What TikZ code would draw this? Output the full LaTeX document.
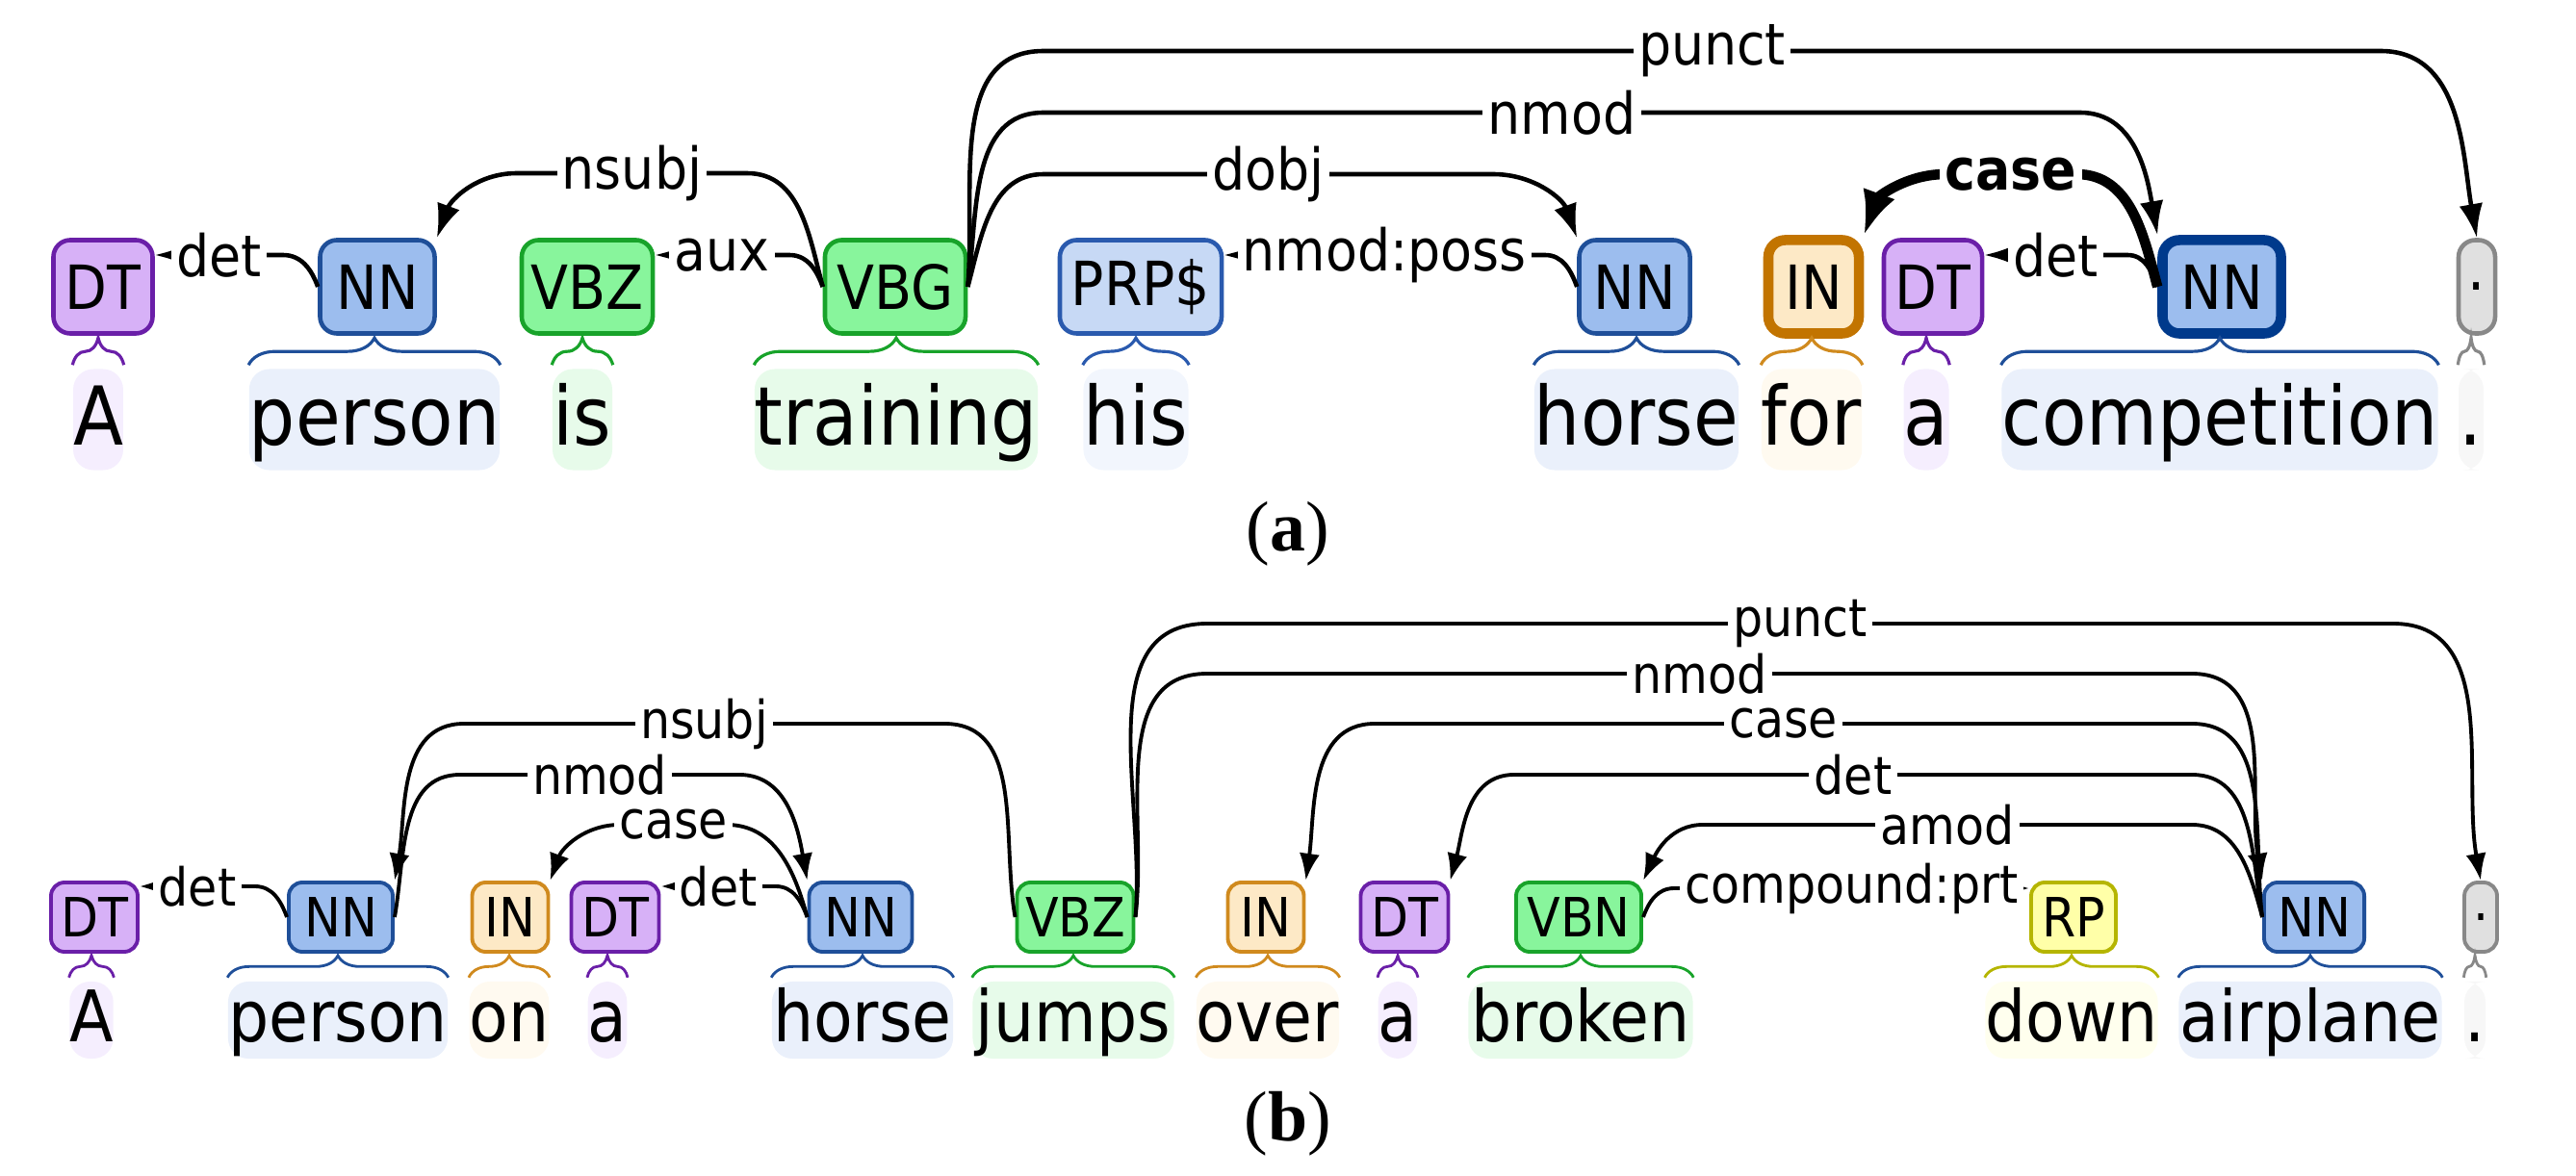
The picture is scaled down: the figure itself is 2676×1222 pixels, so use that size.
\documentclass[tikz,border=0pt]{standalone}
\usepackage{fontspec}
\setmainfont{DejaVu Sans Condensed}
\newfontfamily\capserif{Liberation Serif}
\usetikzlibrary{arrows.meta,decorations.pathreplacing}
\definecolor{dtF}{HTML}{D7B1F7}\definecolor{dtB}{HTML}{6A1FA8}\definecolor{dtW}{HTML}{F5EEFE}
\definecolor{nnF}{HTML}{9CBDEE}\definecolor{nnB}{HTML}{1F4F99}\definecolor{nnW}{HTML}{EAF0FB}
\definecolor{vbF}{HTML}{88F59C}\definecolor{vbB}{HTML}{18A32A}\definecolor{vbW}{HTML}{E7FBEA}
\definecolor{prF}{HTML}{C7D9F5}\definecolor{prB}{HTML}{2A5AAE}\definecolor{prW}{HTML}{F2F6FD}
\definecolor{inF}{HTML}{FDE9C6}\definecolor{inB}{HTML}{D08A1E}\definecolor{inW}{HTML}{FFFAF0}
\definecolor{rpF}{HTML}{FFFFA8}\definecolor{rpB}{HTML}{B5B500}\definecolor{rpW}{HTML}{FFFFEE}
\definecolor{puF}{HTML}{E0E0E0}\definecolor{puB}{HTML}{888888}\definecolor{puW}{HTML}{F7F7F7}
\definecolor{inBB}{HTML}{C27400}\definecolor{nnBB}{HTML}{003A8C}
\begin{document}
\begin{tikzpicture}[x=0.01cm,y=-0.01cm,
  tag/.style={draw, rounded corners=5pt, line width=1.3pt, inner sep=0pt, minimum height=0.97cm, font=\fontsize{18}{18}\selectfont},
  tagb/.style={tag, minimum height=0.72cm, rounded corners=4pt, line width=1.1pt, font=\fontsize{16}{16}\selectfont},
  word/.style={rounded corners=6pt, inner sep=0pt, minimum height=1.05cm, text height=20pt, text depth=5pt, font=\fontsize{24}{24}\selectfont},
  wordb/.style={word, minimum height=0.8cm, text height=17pt, text depth=4pt, font=\fontsize{21}{21}\selectfont},
  DT/.style={draw=dtB, fill=dtF}, NN/.style={draw=nnB, fill=nnF}, VB/.style={draw=vbB, fill=vbF},
  PR/.style={draw=prB, fill=prF}, IN/.style={draw=inB, fill=inF}, RP/.style={draw=rpB, fill=rpF},
  PU/.style={draw=puB, fill=puF},
  lbl/.style={fill=white, inner sep=1.5pt, font=\fontsize{17}{17}\selectfont},
  lblb/.style={lbl, font=\fontsize{15.5}{15.5}\selectfont},
  arc/.style={line width=1.3pt, -{Latex[length=10pt,width=7pt]}},
  arcb/.style={line width=1.1pt, -{Latex[length=8pt,width=6pt]}},
  br/.style={decorate, decoration={brace, amplitude=8pt}, line width=0.9pt},
  brb/.style={decorate, decoration={brace, amplitude=6.5pt}, line width=0.8pt}]
\useasboundingbox (0,0) rectangle (2676,1222);
% ---------- (a) ----------
\node[tag,DT,minimum width=1.03cm] (tDT1) at (107,298) {DT};
\node[tag,NN,minimum width=1.19cm] (tNN1) at (392,298) {NN};
\node[tag,VB,minimum width=1.36cm] (tVBZ) at (610,298) {VBZ};
\node[tag,VB,minimum width=1.46cm] (tVBG) at (930,298) {VBG};
\node[tag,PR,minimum width=1.68cm] (tPRP) at (1185,298) {PRP\$};
\node[tag,NN,minimum width=1.15cm] (tNN2) at (1698,298) {NN};
\node[tag,draw=inBB,fill=inF,line width=3pt,minimum width=0.94cm] (tIN) at (1884,298) {IN};
\node[tag,DT,minimum width=1.02cm] (tDT2) at (2008,298) {DT};
\node[tag,draw=nnBB,fill=nnF,line width=3pt,minimum width=1.23cm] (tNN3) at (2308,298) {NN};
\node[tag,PU,minimum width=0.38cm] (tPU) at (2573,298) {.};
\node[word,fill=dtW,minimum width=0.51cm] (wA) at (102,436) {A};
\node[word,fill=nnW,minimum width=2.59cm] (wperson) at (389,436) {person};
\node[word,fill=vbW,minimum width=0.62cm] (wis) at (605,436) {is};
\node[word,fill=vbW,minimum width=2.93cm] (wtraining) at (931,436) {training};
\node[word,fill=prW,minimum width=1.09cm] (whis) at (1180,436) {his};
\node[word,fill=nnW,minimum width=2.12cm] (whorse) at (1700,436) {horse};
\node[word,fill=inW,minimum width=1.03cm] (wfor) at (1882,436) {for};
\node[word,fill=dtW,minimum width=0.47cm] (wa) at (2001,436) {a};
\node[word,fill=nnW,minimum width=4.48cm] (wcomp) at (2306,436) {competition};
\node[word,fill=puW,minimum width=0.26cm] (wdot) at (2567,436) {.};
\foreach \w/\c in {wA/dtB,wperson/nnB,wis/vbB,wtraining/vbB,whis/prB,whorse/nnB,wfor/inB,wa/dtB,wcomp/nnB,wdot/puB}
  \draw[br,\c] ([yshift=1pt]\w.north west) -- ([yshift=1pt]\w.north east);
\draw[arc] (tNN1.west) to[out=110,in=0] (294,265) -- node[lbl]{det} (tDT1.east |- 0,265);
\draw[arc] (tVBG.west) to[out=110,in=0] (820,265) -- node[lbl]{aux} (tVBZ.east |- 0,265);
\draw[arc] (tVBG.west) to[out=105,in=0] (776,180) -- node[lbl]{nsubj} (537,180) to[out=180,in=70] (tNN1.north east);
\draw[arc] (tVBG.east) to[out=75,in=180] (1084,181) -- node[lbl]{dobj} (1551,181) to[out=0,in=110] (tNN2.north west);
\draw[arc] (tVBG.east) to[out=82,in=180] (1084,117) -- node[lbl]{nmod} (2161,117) to[out=0,in=100] (tNN3.north west);
\draw[arc] (tVBG.east) to[out=85,in=180] (1084,53) -- node[lbl]{punct} (2473,53) to[out=0,in=100] (tPU.north);
\draw[arc] (tNN2.west) to[out=110,in=0] (1605,265) -- node[lbl]{nmod:poss} (tPRP.east |- 0,265);
\draw[line width=3pt, -{Latex[length=13pt,width=10pt]}] (tNN3.west) to[out=105,in=0] (2157,181) -- node[lbl,font=\fontsize{17}{17}\bfseries]{case} (2021,181) to[out=180,in=70] (tIN.north east);
\draw[arc] (tNN3.west) to[out=110,in=0] (2210,265) -- node[lbl]{det} (tDT2.east |- 0,265);
\node[font=\capserif\fontsize{21}{21}\selectfont] (capa) at (1338,555) {(\textbf{a})};
% ---------- (b) ----------
\node[tagb,DT,minimum width=0.90cm] (bDT1) at (98,953) {DT};
\node[tagb,NN,minimum width=1.08cm] (bNN1) at (354,953) {NN};
\node[tagb,IN,minimum width=0.79cm] (bIN1) at (530,953) {IN};
\node[tagb,DT,minimum width=0.91cm] (bDT2) at (639,953) {DT};
\node[tagb,NN,minimum width=1.07cm] (bNN2) at (894,953) {NN};
\node[tagb,VB,minimum width=1.21cm] (bVBZ) at (1117,953) {VBZ};
\node[tagb,IN,minimum width=0.79cm] (bIN2) at (1315,953) {IN};
\node[tagb,DT,minimum width=0.91cm] (bDT3) at (1459,953) {DT};
\node[tagb,VB,minimum width=1.30cm] (bVBN) at (1640,953) {VBN};
\node[tagb,RP,minimum width=0.88cm] (bRP) at (2154,953) {RP};
\node[tagb,NN,minimum width=1.04cm] (bNN3) at (2404,953) {NN};
\node[tagb,PU,minimum width=0.34cm] (bPU) at (2577,953) {.};
\node[wordb,fill=dtW,minimum width=0.44cm] (vA) at (95,1060) {A};
\node[wordb,fill=nnW,minimum width=2.28cm] (vperson) at (351,1060) {person};
\node[wordb,fill=inW,minimum width=0.82cm] (von) at (529,1060) {on};
\node[wordb,fill=dtW,minimum width=0.39cm] (va) at (631,1060) {a};
\node[wordb,fill=nnW,minimum width=1.88cm] (vhorse) at (896,1060) {horse};
\node[wordb,fill=vbW,minimum width=2.09cm] (vjumps) at (1115,1060) {jumps};
\node[wordb,fill=inW,minimum width=1.48cm] (vover) at (1317,1060) {over};
\node[wordb,fill=dtW,minimum width=0.40cm] (va2) at (1452,1060) {a};
\node[wordb,fill=vbW,minimum width=2.33cm] (vbroken) at (1642,1060) {broken};
\node[wordb,fill=rpW,minimum width=1.79cm] (vdown) at (2152,1060) {down};
\node[wordb,fill=nnW,minimum width=2.73cm] (vairplane) at (2400,1060) {airplane};
\node[wordb,fill=puW,minimum width=0.22cm] (vdot) at (2571,1060) {.};
\foreach \w/\c in {vA/dtB,vperson/nnB,von/inB,va/dtB,vhorse/nnB,vjumps/vbB,vover/inB,va2/dtB,vbroken/vbB,vdown/rpB,vairplane/nnB,vdot/puB}
  \draw[brb,\c] ([yshift=1pt]\w.north west) -- ([yshift=1pt]\w.north east);
\draw[arcb] (bNN1.west) to[out=110,in=0] (265,921) -- node[lblb]{det} (bDT1.east |- 0,921);
\draw[arcb] (bVBZ.west) to[out=100,in=0] (981,752) -- node[lblb]{nsubj} (482,752) to[out=180,in=80] (bNN1.north east);
\draw[arcb] (bNN1.east) to[out=80,in=180] (478,805) -- node[lblb]{nmod} (768,805) to[out=0,in=100] (bNN2.north west);
\draw[arcb] (bNN2.west) to[out=105,in=0] (755,857) -- node[lblb]{case} (644,857) to[out=180,in=70] (bIN1.north east);
\draw[arcb] (bNN2.west) to[out=110,in=0] (806,921) -- node[lblb]{det} (bDT2.east |- 0,921);
\draw[arcb] (bVBZ.east) to[out=85,in=180] (1254,648) -- node[lblb]{punct} (2486,648) to[out=0,in=100] (bPU.north);
\draw[arcb] (bVBZ.east) to[out=83,in=180] (1254,700) -- node[lblb]{nmod} (2277,700) to[out=0,in=100] (bNN3.north west);
\draw[arcb] (bNN3.west) to[out=97,in=0] (2277,752) -- node[lblb]{case} (1428,752) to[out=180,in=82] (bIN2.north east);
\draw[arcb] (bNN3.west) to[out=100,in=0] (2277,805) -- node[lblb]{det} (1573,805) to[out=180,in=75] (bDT3.north east);
\draw[arcb] (bNN3.west) to[out=105,in=0] (2277,857) -- node[lblb]{amod} (1769,857) to[out=180,in=65] (bVBN.north east);
\draw[arcb] (bVBN.east) to[out=70,in=180] (1739,923) -- node[lblb]{compound:prt} (bRP.west |- 0,923);
\node[font=\capserif\fontsize{21}{21}\selectfont] (capb) at (1338,1168) {(\textbf{b})};
\end{tikzpicture}
\end{document}
